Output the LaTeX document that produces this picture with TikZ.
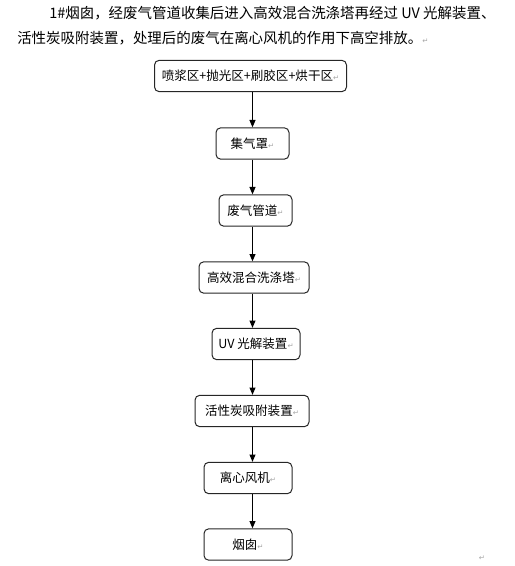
\documentclass[tikz,border=0pt]{standalone}
\usepackage{fontspec}
\newfontfamily\cjk{Noto Sans CJK SC}
\newfontfamily\symfont{DejaVu Sans}
\usetikzlibrary{arrows.meta}
\newcommand{\retmark}{{\symfont\color{black!35}\fontsize{5.5}{5.5}\selectfont ↵}}

\begin{document}
\begin{tikzpicture}[x=0.75pt,y=-0.75pt]
\tikzset{
  bodytext/.style={anchor=west,inner sep=0pt,font=\cjk\fontsize{10.85}{12}\selectfont},
  stepbox/.style={draw=black!85,line width=0.75pt,rounded corners=3.5pt,minimum height=23.5pt,inner sep=0pt,font=\cjk\fontsize{9.4}{11}\selectfont},
  flowarrow/.style={draw=black,line width=0.75pt,-{Triangle[length=5.5pt,width=4.5pt]}}
}
\useasboundingbox (0,0) rectangle (514,566);
\node[bodytext] (n_line1) at (49,13) {1\#烟囱，经废气管道收集后进入高效混合洗涤塔再经过 UV 光解装置、};
\node[bodytext] (n_line2) at (17,38) {活性炭吸附装置，处理后的废气在离心风机的作用下高空排放。\retmark};
\node[stepbox,minimum width=144pt] (n_zones) at (250.5,76) {喷浆区+抛光区+刷胶区+烘干区\retmark};
\node[stepbox,minimum width=54.75pt] (n_hood) at (252.5,143.5) {集气罩\retmark};
\node[stepbox,minimum width=54.75pt] (n_duct) at (255.5,210.5) {废气管道\retmark};
\node[stepbox,minimum width=82.5pt] (n_scrub) at (254,277.5) {高效混合洗涤塔\retmark};
\node[stepbox,minimum width=66pt] (n_uv) at (256,344) {UV 光解装置\retmark};
\node[stepbox,minimum width=85.5pt] (n_carbon) at (252,411) {活性炭吸附装置\retmark};
\node[stepbox,minimum width=66pt] (n_fan) at (248,478) {离心风机\retmark};
\node[stepbox,minimum width=66pt] (n_stack) at (248,544.5) {烟囱\retmark};
\node[inner sep=0pt] (n_endmark) at (482,558) {\retmark};
\coordinate (spine) at (252.5,0);
\draw[flowarrow] (n_zones.south -| spine) -- (n_hood.north -| spine);
\draw[flowarrow] (n_hood.south -| spine) -- (n_duct.north -| spine);
\draw[flowarrow] (n_duct.south -| spine) -- (n_scrub.north -| spine);
\draw[flowarrow] (n_scrub.south -| spine) -- (n_uv.north -| spine);
\draw[flowarrow] (n_uv.south -| spine) -- (n_carbon.north -| spine);
\draw[flowarrow] (n_carbon.south -| spine) -- (n_fan.north -| spine);
\draw[flowarrow] (n_fan.south -| spine) -- (n_stack.north -| spine);
\end{tikzpicture}
\end{document}
